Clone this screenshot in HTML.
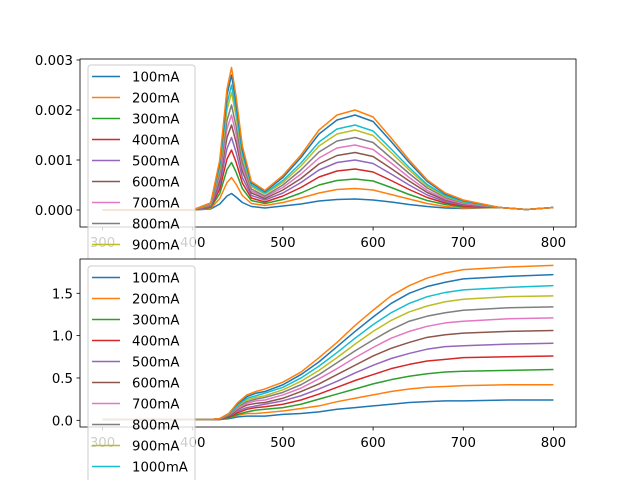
<!DOCTYPE html>
<html><head><meta charset="utf-8"><style>
html,body{margin:0;padding:0;background:#fff;width:640px;height:480px;overflow:hidden;}
svg{display:block;font-family:"DejaVu Sans","Liberation Sans",sans-serif;overflow:hidden;}
</style></head><body>
<svg id="fig" width="640" height="480" viewBox="0 0 640 480" xmlns="http://www.w3.org/2000/svg">
<rect width="640" height="480" fill="#fff"/>
</svg>
<script>
const colors=['#1f77b4','#ff7f0e','#2ca02c','#d62728','#9467bd','#8c564b','#e377c2','#7f7f7f','#bcbd22','#17becf','#1f77b4','#ff7f0e'];
const labels=['100mA','200mA','300mA','400mA','500mA','600mA','700mA','800mA','900mA','1000mA','1100mA','1200mA'];
const xTicks=[300,400,500,600,700,800];
const topYTicks=[0,0.001,0.002,0.003];
const topYTickLabels=['0.000','0.001','0.002','0.003'];
const botYTicks=[0,0.5,1.0,1.5];
const botYTickLabels=['0.0','0.5','1.0','1.5'];
// top: spectrum, values in units of 1e-4
const topX=[300,400,420,430,438,443,448,455,465,480,500,520,540,560,580,600,620,640,660,680,700,740,770,800];
const topS1=[0,0,0.2,1.2,2.8,3.3,2.6,1.5,0.7,0.4,0.8,1.2,1.8,2.1,2.2,2.0,1.6,1.1,0.7,0.4,0.3,0.5,0.1,0.5];
const topS2=[0,0,0.3,2.3,5.5,6.5,5.2,2.9,1.3,0.9,1.5,2.4,3.4,4.1,4.3,4.0,3.1,2.2,1.3,0.7,0.4,0.5,0.1,0.5];
const topS3=[0,0,0.5,3.3,8.1,9.5,7.6,4.3,1.9,1.3,2.1,3.4,5.0,5.9,6.2,5.8,4.5,3.1,1.9,1.1,0.6,0.5,0.1,0.5];
const topS4=[0,0,0.6,4.2,10.2,12,9.6,5.4,2.4,1.6,2.8,4.5,6.6,7.8,8.2,7.6,5.9,4.1,2.5,1.4,0.8,0.5,0.1,0.5];
const topS5=[0,0,0.7,5.1,12.3,14.5,11.6,6.5,2.9,2.0,3.4,5.5,8.0,9.5,10,9.3,7.2,5.0,3.0,1.7,1.0,0.5,0.1,0.5];
const topS6=[0,0,0.9,6.0,14.5,17,13.6,7.7,3.4,2.3,4.0,6.3,9.2,10.9,11.5,10.7,8.3,5.8,3.5,2.0,1.2,0.5,0.1,0.5];
const topS7=[0,0,1.0,6.7,16.2,19,15.2,8.6,3.8,2.6,4.5,7.2,10.4,12.4,13,12.1,9.4,6.5,3.9,2.2,1.3,0.5,0.1,0.5];
const topS8=[0,0,1.1,7.4,17.9,21,16.8,9.5,4.2,2.8,5.0,8.0,11.6,13.8,14.5,13.5,10.4,7.3,4.4,2.5,1.5,0.5,0.1,0.5];
const topS9=[0,0,1.2,8.2,20,23.5,18.8,10.6,4.7,3.2,5.5,8.8,12.8,15.2,16,14.9,11.5,8.0,4.8,2.7,1.6,0.5,0.1,0.5];
const topS10=[0,0,1.3,8.8,21.3,25,20,11.3,5.0,3.4,5.9,9.4,13.6,16.2,17,15.8,12.2,8.5,5.1,2.9,1.7,0.5,0.1,0.5];
const topS11=[0,0,1.4,9.5,23,27,21.6,12.2,5.4,3.7,6.5,10.5,15.2,18,19,17.7,13.7,9.5,5.7,3.2,1.9,0.5,0.1,0.5];
const topS12=[0,0,1.4,10,24.2,28.5,22.8,12.8,5.7,3.9,6.9,11,16,19,20,18.6,14.4,10,6,3.4,2,0.5,0.1,0.5];
// bottom: cumulative
const botX=[300,420,430,440,450,460,470,480,500,520,540,560,580,600,620,640,660,680,700,750,800];
const botS1=[.01,.01,.01,.02,.04,.05,.05,.05,.07,.08,.10,.13,.15,.17,.19,.21,.22,.23,.23,.24,.24];
const botS2=[.01,.01,.01,.03,.06,.08,.08,.09,.11,.14,.17,.22,.26,.30,.34,.37,.39,.40,.41,.42,.42];
const botS3=[.01,.01,.01,.03,.07,.10,.12,.13,.15,.19,.25,.31,.37,.43,.48,.52,.55,.57,.58,.59,.60];
const botS4=[.01,.01,.01,.04,.09,.13,.15,.16,.19,.24,.31,.39,.47,.54,.61,.66,.70,.72,.74,.75,.76];
const botS5=[.01,.01,.01,.05,.11,.15,.17,.19,.23,.29,.37,.46,.56,.65,.73,.79,.84,.87,.88,.90,.91];
const botS6=[.01,.01,.02,.05,.13,.18,.20,.21,.26,.34,.43,.54,.65,.76,.85,.92,.98,1.01,1.03,1.05,1.06];
const botS7=[.01,.01,.02,.06,.14,.20,.23,.24,.30,.38,.49,.61,.74,.86,.97,1.05,1.11,1.15,1.17,1.20,1.21];
const botS8=[.01,.01,.02,.06,.16,.22,.25,.27,.33,.42,.54,.68,.82,.95,1.07,1.17,1.23,1.27,1.30,1.33,1.34];
const botS9=[.01,.01,.02,.07,.17,.24,.27,.29,.36,.46,.59,.74,.90,1.05,1.18,1.28,1.35,1.40,1.43,1.46,1.47];
const botS10=[.01,.01,.02,.07,.18,.26,.29,.32,.39,.50,.64,.80,.97,1.13,1.27,1.38,1.46,1.51,1.54,1.57,1.59];
const botS11=[.01,.01,.02,.08,.20,.28,.32,.34,.42,.54,.69,.87,1.05,1.22,1.38,1.50,1.58,1.63,1.67,1.70,1.72];
const botS12=[.01,.01,.02,.08,.21,.30,.34,.37,.45,.57,.74,.92,1.12,1.30,1.47,1.59,1.68,1.74,1.78,1.81,1.83];
const topSeries=[topS1,topS2,topS3,topS4,topS5,topS6,topS7,topS8,topS9,topS10,topS11,topS12];
const botSeries=[botS1,botS2,botS3,botS4,botS5,botS6,botS7,botS8,botS9,botS10,botS11,botS12];

const NS='http://www.w3.org/2000/svg';
const svg=document.getElementById('fig');
function mk(tag,attrs,parent){const e=document.createElementNS(NS,tag);for(const k in attrs)e.setAttribute(k,attrs[k]);(parent||svg).appendChild(e);return e;}
const L=80,R=576;
function xs(v){return L+(v-275)/(825-275)*(R-L);}

function drawAxes(name,top,bot,ymin,ymax,xArr,series,yt,ytl,yUnit,legendTop,nLeg){
  const g=mk('g',{});
  
  
  const ys=v=>bot-(v*yUnit-ymin)/(ymax-ymin)*(bot-top);
  const bg=mk('rect',{x:L,y:top,width:R-L,height:bot-top,fill:'#fff'},g);
  
  
  xTicks.forEach(t=>{
    mk('line',{x1:xs(t),x2:xs(t),y1:bot,y2:bot+3.5,stroke:'#000','stroke-width':0.8},g);
    const tx=mk('text',{x:xs(t),y:bot+20,'font-size':'13.3','text-anchor':'middle',fill:'#000'},g);
    tx.textContent=String(t);
    
    
  });
  yt.forEach((t,i)=>{
    const y=bot-(t-ymin)/(ymax-ymin)*(bot-top);
    mk('line',{x1:L-3.5,x2:L,y1:y,y2:y,stroke:'#000','stroke-width':0.8},g);
    const tx=mk('text',{x:L-7,y:y+5,'font-size':'13.3','text-anchor':'end',fill:'#000'},g);
    tx.textContent=ytl[i];
    
    
  });
  const clipId=name+'-clip';
  const cp=mk('clipPath',{id:clipId},g);
  mk('rect',{x:L,y:top,width:R-L,height:bot-top},cp);
  series.forEach((s,i)=>{
    const d=s.map((v,j)=>(j?'L':'M')+xs(xArr[j]).toFixed(2)+' '+ys(v).toFixed(2)).join(' ');
    const p=mk('path',{d:d,fill:'none',stroke:colors[i],'stroke-width':1.5,'clip-path':'url(#'+clipId+')','stroke-linejoin':'round'},g);
    
    
  });
  mk('rect',{x:L,y:top,width:R-L,height:bot-top,fill:'none',stroke:'#000','stroke-width':0.8},g);
  const lg=mk('g',{},g);
  
  
  mk('rect',{x:88,y:legendTop,width:107,height:nLeg*21+8,rx:3,fill:'#fff','fill-opacity':0.8,stroke:'#cccccc','stroke-width':1},lg);
  for(let i=0;i<nLeg;i++){
    const cy=legendTop+11.5+i*21;
    const ln=mk('line',{x1:92,x2:120,y1:cy,y2:cy,stroke:colors[i],'stroke-width':1.5},lg);
    
    
    const tx=mk('text',{x:132,y:cy+4.8,'font-size':'13.3',fill:'#000'},lg);
    tx.textContent=labels[i];
    
    
  }
}
drawAxes('top-axes',59,227,-0.00034,0.00302,topX,topSeries,topYTicks,topYTickLabels,1e-4,65,12);
drawAxes('bottom-axes',259,427,-0.079,1.905,botX,botSeries,botYTicks,botYTickLabels,1,266,10);
</script>
</body></html>
